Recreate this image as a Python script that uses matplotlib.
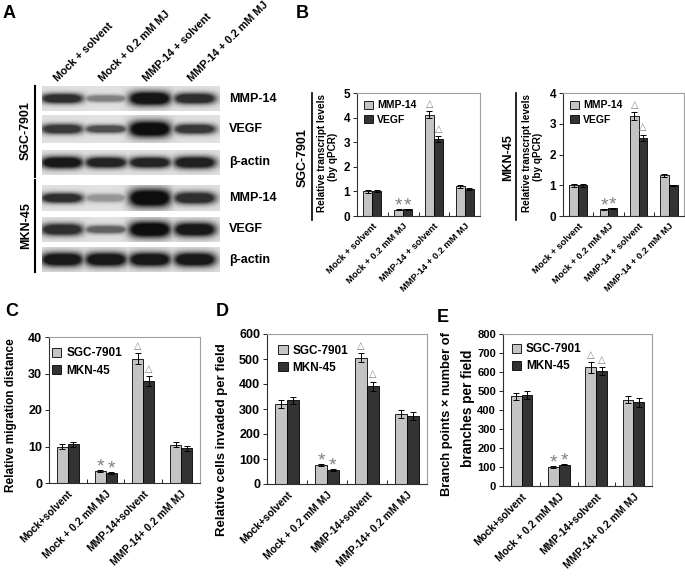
import numpy as np
import matplotlib
matplotlib.use('Agg')
import matplotlib.pyplot as plt
from matplotlib.patches import Patch

plt.rcParams['font.family'] = ['Liberation Sans', 'DejaVu Sans']
plt.rcParams['font.weight'] = 'bold'

# ---- data ----
lanes = ['Mock + solvent', 'Mock + 0.2 mM MJ', 'MMP-14 + solvent', 'MMP-14 + 0.2 mM MJ']
blot_rows = ['MMP-14', 'VEGF', 'β-actin', 'MMP-14', 'VEGF', 'β-actin']
# band darkness (0-1) per row and lane, read from the blot
blot_dark = [[0.85, 0.45, 0.97, 0.85],
             [0.80, 0.70, 1.00, 0.80],
             [0.95, 0.90, 0.90, 0.92],
             [0.85, 0.35, 1.00, 0.85],
             [0.85, 0.60, 1.00, 0.95],
             [0.95, 0.95, 0.95, 0.95]]
blot_thick = [[5, 3.5, 7, 5.5],
              [5, 4, 8, 5],
              [6, 5.5, 5.5, 6],
              [5, 4, 9, 6],
              [6, 4, 8, 7],
              [7, 7, 7, 7]]

groups_b = ['Mock + solvent', 'Mock + 0.2 mM MJ', 'MMP-14 + solvent', 'MMP-14 + 0.2 mM MJ']
groups_cde = ['Mock+solvent', 'Mock + 0.2 mM MJ', 'MMP-14+solvent', 'MMP-14+ 0.2 mM MJ']

b1_mmp = [1.0, 0.25, 4.12, 1.2]
b1_mmp_err = [0.05, 0.02, 0.15, 0.05]
b1_vegf = [1.0, 0.28, 3.12, 1.1]
b1_vegf_err = [0.04, 0.02, 0.13, 0.03]

b2_mmp = [1.0, 0.22, 3.25, 1.32]
b2_mmp_err = [0.05, 0.01, 0.12, 0.06]
b2_vegf = [1.0, 0.25, 2.55, 1.0]
b2_vegf_err = [0.05, 0.01, 0.10, 0.02]

c_sgc = [10.0, 3.3, 34.0, 10.5]
c_sgc_err = [0.6, 0.2, 1.5, 0.6]
c_mkn = [10.6, 2.8, 28.0, 9.5]
c_mkn_err = [0.6, 0.2, 1.3, 0.6]

d_sgc = [320, 75, 505, 280]
d_sgc_err = [15, 4, 18, 15]
d_mkn = [335, 57, 392, 272]
d_mkn_err = [14, 3, 18, 15]

e_sgc = [472, 100, 625, 455]
e_sgc_err = [18, 4, 28, 20]
e_mkn = [480, 112, 605, 440]
e_mkn_err = [22, 4, 22, 22]

LIGHT = '#c4c4c4'
DARK = '#333333'

W, H = 685, 587
fig = plt.figure(figsize=(W / 100, H / 100), dpi=100)


def box(l, t, r, b):
    return [l / W, 1 - b / H, (r - l) / W, (b - t) / H]


# ---- panel A: western blot ----
strips = [(86, 111), (115, 143), (150, 175), (185, 211), (217, 242), (247, 272)]
lane_x = [20, 64, 108, 153]
axb = fig.add_axes(box(42, 86, 220, 272))
axb.axis('off')
xx = np.linspace(0, 178, 356)
for i, (t, b) in enumerate(strips):
    yy = np.linspace(0, b - t, 2 * (b - t))
    X, Y = np.meshgrid(xx, yy)
    cy = (b - t) / 2
    d = np.zeros_like(X)
    for j, cx in enumerate(lane_x):
        wy = blot_thick[i][j]
        prof = np.exp(-((X - cx) / 21) ** 4) * np.exp(-((Y - cy) / wy) ** 2)
        d = np.maximum(d, blot_dark[i][j] * np.clip(prof * 1.6, 0, 1))
    img = 0.88 - 0.82 * d
    axb.imshow(img, cmap='gray', vmin=0, vmax=1, extent=[0, 178, b - 86, t - 86],
               aspect='auto', interpolation='bilinear')
axb.set_xlim(0, 178)
axb.set_ylim(186, 0)

for j, name in enumerate(lanes):
    fig.text((58 + 44.5 * j) / W, 1 - 82 / H, name, rotation=45, ha='left', va='baseline',
             rotation_mode='anchor', fontsize=7.8)
for i, (t, b) in enumerate(strips):
    fig.text(229 / W, 1 - (t + b) / 2 / H, blot_rows[i], ha='left', va='center', fontsize=9)
fig.add_artist(plt.Line2D([35 / W, 35 / W], [1 - 86 / H, 1 - 177 / H], color='black', lw=1.5))
fig.add_artist(plt.Line2D([35 / W, 35 / W], [1 - 180 / H, 1 - 272 / H], color='black', lw=1.5))
fig.text(26 / W, 1 - 131 / H, 'SGC-7901', rotation=90, ha='center', va='center', fontsize=9)
fig.text(26 / W, 1 - 226 / H, 'MKN-45', rotation=90, ha='center', va='center', fontsize=9)

# panel letters
for letter, (x, y) in zip('ABCDE', [(9, 13), (302, 13), (12, 312), (222, 312), (443, 317)]):
    fig.text(x / W, 1 - y / H, letter, ha='center', va='center', fontsize=13)


def bar_panel(ax, s1, e1, s2, e2, ymax, step, labels, names, tick_fs, lab_fs, leg_fs, leg_anchor):
    x = np.arange(len(s1)) + 0.5
    w = 0.29
    ax.bar(x - w / 2, s1, w, color=LIGHT, edgecolor='black', lw=0.6, zorder=2)
    ax.bar(x + w / 2, s2, w, color=DARK, edgecolor='black', lw=0.6, zorder=2)
    ax.errorbar(x - w / 2, s1, yerr=e1, fmt='none', ecolor='black', elinewidth=0.7,
                capsize=2.5, capthick=0.7, zorder=3)
    ax.errorbar(x + w / 2, s2, yerr=e2, fmt='none', ecolor='black', elinewidth=0.7,
                capsize=2.5, capthick=0.7, zorder=3)
    for xs, vals, errs in [(x - w / 2, s1, e1), (x + w / 2, s2, e2)]:
        ax.annotate('*', (xs[1], vals[1] + errs[1]), xytext=(0, -4), textcoords='offset points',
                    ha='center', va='bottom', fontsize=14, color='#808080', fontweight='normal')
        ax.annotate('△', (xs[2], vals[2] + errs[2]), xytext=(0, 1.5), textcoords='offset points',
                    ha='center', va='bottom', fontsize=7, color='#808080', family='DejaVu Sans')
    ax.set_xlim(0, len(s1))
    ax.set_ylim(0, ymax)
    ax.set_yticks(np.arange(0, ymax + step / 2, step))
    ax.set_xticks(x)
    ax.set_xticklabels(labels, rotation=45, ha='right', va='top', rotation_mode='anchor',
                       fontsize=lab_fs)
    ax.set_xticks([1, 2, 3], minor=True)
    ax.tick_params(axis='x', which='major', length=0, pad=4)
    ax.tick_params(axis='x', which='minor', length=3, width=0.6, direction='in')
    ax.tick_params(axis='y', length=3, width=0.6, labelsize=tick_fs, pad=2)
    for sp in ['top', 'right']:
        ax.spines[sp].set_color('#a0a0a0')
        ax.spines[sp].set_linewidth(0.8)
    for sp in ['left', 'bottom']:
        ax.spines[sp].set_color('#303030')
        ax.spines[sp].set_linewidth(0.8)
    handles = [Patch(facecolor=LIGHT, edgecolor='black', lw=0.6),
               Patch(facecolor=DARK, edgecolor='black', lw=0.6)]
    ax.legend(handles, names, loc='upper left', bbox_to_anchor=leg_anchor, frameon=False,
              fontsize=leg_fs, handlelength=0.8, handleheight=0.8, handletextpad=0.4,
              labelspacing=0.45, borderaxespad=0, borderpad=0)


# ---- panel B ----
ax1 = fig.add_axes(box(357, 93, 480, 216))
bar_panel(ax1, b1_mmp, b1_mmp_err, b1_vegf, b1_vegf_err, 5, 1, groups_b, ['MMP-14', 'VEGF'],
          8.5, 6.7, 7.5, (0.06, 0.94))
ax2 = fig.add_axes(box(563, 93, 684, 216))
bar_panel(ax2, b2_mmp, b2_mmp_err, b2_vegf, b2_vegf_err, 4, 1, groups_b, ['MMP-14', 'VEGF'],
          8.5, 6.7, 7.5, (0.06, 0.94))

for xl, xn, xc, name in [(312, 303, 322, 'SGC-7901'), (516, 508, 527, 'MKN-45')]:
    fig.add_artist(plt.Line2D([xl / W, xl / W], [1 - 93 / H, 1 - 220 / H], color='black', lw=1.2))
    fig.text(xn / W, 1 - 158 / H, name, rotation=90, ha='center', va='center', fontsize=9)
    fig.text(xc / W, 1 - 153 / H, 'Relative transcript levels', rotation=90, ha='center',
             va='center', fontsize=7.2)
    fig.text((xc + 11) / W, 1 - 157 / H, '(by qPCR)', rotation=90, ha='center',
             va='center', fontsize=7.2)

# ---- panel C ----
axc = fig.add_axes(box(49, 337, 200, 483))
bar_panel(axc, c_sgc, c_sgc_err, c_mkn, c_mkn_err, 40, 10, groups_cde, ['SGC-7901', 'MKN-45'],
          9, 7.5, 8.5, (0.02, 0.93))
fig.text(11 / W, 1 - 415 / H, 'Relative migration distance', rotation=90, ha='center',
         va='center', fontsize=8.5)

# ---- panel D ----
axd = fig.add_axes(box(267, 334, 427, 484))
bar_panel(axd, d_sgc, d_sgc_err, d_mkn, d_mkn_err, 600, 100, groups_cde, ['SGC-7901', 'MKN-45'],
          9, 7.5, 8.5, (0.07, 0.93))
fig.text(222 / W, 1 - 440 / H, 'Relative cells invaded per field', rotation=90, ha='center',
         va='center', fontsize=9.5)

# ---- panel E ----
axe = fig.add_axes(box(503, 334, 652, 486))
bar_panel(axe, e_sgc, e_sgc_err, e_mkn, e_mkn_err, 800, 100, groups_cde, ['SGC-7901', 'MKN-45'],
          8, 7.5, 8.5, (0.06, 0.94))
fig.text(447 / W, 1 - 414 / H, 'Branch points × number of', rotation=90, ha='center',
         va='center', fontsize=9.3)
fig.text(468 / W, 1 - 408 / H, 'branches per field', rotation=90, ha='center',
         va='center', fontsize=9.8)

fig.savefig('out.png', dpi=100)
